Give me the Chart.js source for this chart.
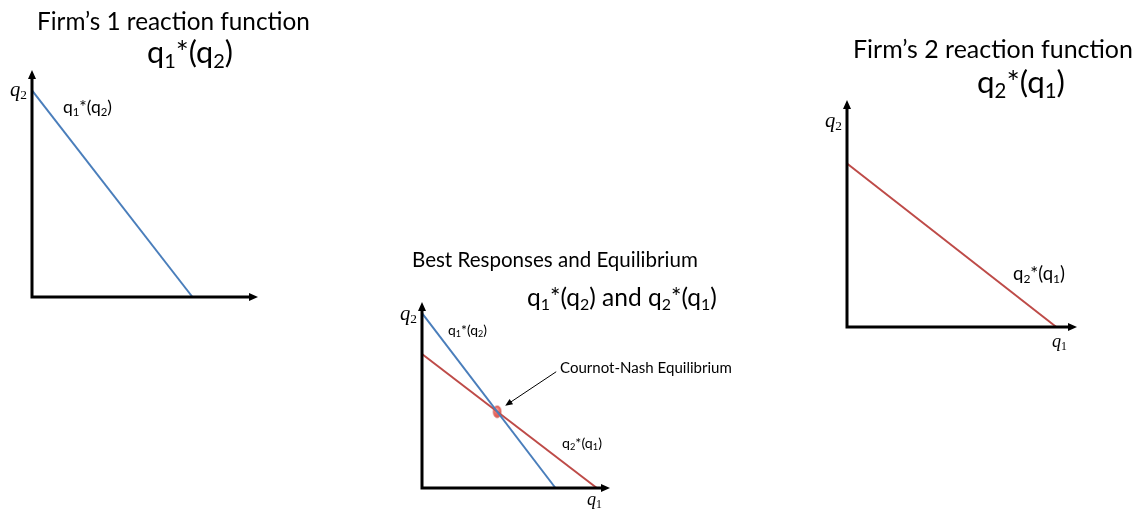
<!DOCTYPE html>
<html>
<head>
<meta charset="utf-8">
<title>Cournot reaction functions</title>
<script src="https://cdn.jsdelivr.net/npm/chart.js@4.4.1/dist/chart.umd.min.js"></script>
<style>
  html, body { margin: 0; padding: 0; background: #fff; }
  #stage { position: relative; width: 1140px; height: 509px; overflow: hidden; }
  #stage canvas { position: absolute; left: 0; top: 0; }
</style>
</head>
<body>
<div id="stage">
  <canvas id="firm1" width="1140" height="509"></canvas>
  <canvas id="both" width="1140" height="509"></canvas>
  <canvas id="firm2" width="1140" height="509"></canvas>
</div>
<script>
// every diagram runs 0..AXIS_MAX on both axes, the arrow tip sits at AXIS_MAX
const AXIS_MAX = 10;

// firm 1 reaction function q1*(q2), from the q2 intercept down to the q1 intercept
const firm1Q1 = [0, 7.1];
const firm1Q2 = [9.1, 0];

// best responses panel
const bestFirm1Q1 = [0, 7.1];
const bestFirm1Q2 = [9.4, 0];
const bestFirm2Q1 = [0, 9.3];
const bestFirm2Q2 = [7.2, 0];
const equilibriumQ1 = [4.0];
const equilibriumQ2 = [4.1];

// firm 2 reaction function q2*(q1)
const firm2Q1 = [0, 9.1];
const firm2Q2 = [7.2, 0];

const BLUE = '#4a7ebb';
const RED = '#be4b48';
const SANS = 'Lato, "Open Sans", sans-serif';
const SERIF = '"Liberation Serif", "DejaVu Serif", serif';
const W = 1140, H = 509;

function toPoints(xs, ys) {
  return xs.map((x, i) => ({ x: x, y: ys[i] }));
}

function reactionLine(xs, ys, color) {
  return {
    data: toPoints(xs, ys),
    showLine: true,
    borderColor: color,
    borderWidth: 2,
    pointRadius: 0,
    clip: false
  };
}

// small shaded ellipse used as the equilibrium marker
function equilibriumDot() {
  const c = document.createElement('canvas');
  c.width = 10; c.height = 14;
  const g = c.getContext('2d');
  const grad = g.createRadialGradient(4, 4.5, 0.5, 5, 7, 6.5);
  grad.addColorStop(0, '#f7aaa3');
  grad.addColorStop(0.45, '#ec6a62');
  grad.addColorStop(1, '#d9554d');
  g.fillStyle = grad;
  g.beginPath();
  g.ellipse(5, 7, 4, 6, 0, 0, Math.PI * 2);
  g.fill();
  g.strokeStyle = 'rgba(190, 70, 64, 0.8)';
  g.lineWidth = 0.6;
  g.stroke();
  return c;
}

// thick black axes with arrow heads, drawn over the lines
const arrowAxes = {
  id: 'arrowAxes',
  afterDatasetsDraw(chart) {
    const { ctx, scales: { x, y } } = chart;
    const x0 = x.getPixelForValue(0), y0 = y.getPixelForValue(0);
    const xEnd = x.getPixelForValue(AXIS_MAX), yEnd = y.getPixelForValue(AXIS_MAX);
    ctx.save();
    ctx.strokeStyle = '#000';
    ctx.fillStyle = '#000';
    ctx.lineWidth = 3;
    ctx.lineJoin = 'miter';
    ctx.beginPath();
    ctx.moveTo(x0, yEnd + 6);
    ctx.lineTo(x0, y0);
    ctx.lineTo(xEnd - 6, y0);
    ctx.stroke();
    ctx.beginPath();
    ctx.moveTo(x0, yEnd);
    ctx.lineTo(x0 - 4, yEnd + 9);
    ctx.lineTo(x0 + 4, yEnd + 9);
    ctx.closePath();
    ctx.moveTo(xEnd, y0);
    ctx.lineTo(xEnd - 9, y0 - 4);
    ctx.lineTo(xEnd - 9, y0 + 4);
    ctx.closePath();
    ctx.fill();
    ctx.restore();
  }
};

// '_' marks the next character as a subscript
function runs(text) {
  const out = [];
  for (let i = 0; i < text.length; i++) {
    if (text[i] === '_') {
      out.push({ t: text[i + 1], sub: true });
      i++;
    } else if (out.length && !out[out.length - 1].sub) {
      out[out.length - 1].t += text[i];
    } else {
      out.push({ t: text[i], sub: false });
    }
  }
  return out;
}

function fontFor(run, size, label) {
  const s = run.sub ? size * 0.65 : size;
  const style = label.italic && !run.sub ? 'italic ' : '';
  return style + s.toFixed(2) + 'px ' + (label.family || SANS);
}

function richWidth(ctx, label, size) {
  return runs(label.text).reduce((w, r) => {
    ctx.font = fontFor(r, size, label);
    return w + ctx.measureText(r.t).width;
  }, 0);
}

// text items: x = left edge, y = baseline, w = width the text is fitted to
const panelLabels = {
  id: 'panelLabels',
  afterDraw(chart, args, opts) {
    const ctx = chart.ctx;
    ctx.save();
    ctx.fillStyle = '#000';
    ctx.textBaseline = 'alphabetic';
    ctx.textAlign = 'left';
    (opts.items || []).forEach(label => {
      const size = 100 * label.w / richWidth(ctx, label, 100);
      let cx = label.x;
      runs(label.text).forEach(r => {
        ctx.font = fontFor(r, size, label);
        ctx.fillText(r.t, cx, label.y + (r.sub ? size * 0.15 : 0));
        cx += ctx.measureText(r.t).width;
      });
    });
    ctx.restore();
  }
};

// pointer from the "Cournot-Nash Equilibrium" caption to the marker
const equilibriumPointer = {
  id: 'equilibriumPointer',
  afterDatasetsDraw(chart, args, opts) {
    if (opts.dataset === undefined) return;
    const pt = chart.getDatasetMeta(opts.dataset).data[0];
    const ctx = chart.ctx;
    const tipX = pt.x + 8, tipY = pt.y - 6;
    const tailX = pt.x + 59, tailY = pt.y - 40;
    const ang = Math.atan2(tipY - tailY, tipX - tailX);
    ctx.save();
    ctx.strokeStyle = '#000';
    ctx.fillStyle = '#000';
    ctx.lineWidth = 1;
    ctx.beginPath();
    ctx.moveTo(tailX, tailY);
    ctx.lineTo(tipX - 5 * Math.cos(ang), tipY - 5 * Math.sin(ang));
    ctx.stroke();
    ctx.beginPath();
    ctx.moveTo(tipX, tipY);
    ctx.lineTo(tipX - 8 * Math.cos(ang - 0.4), tipY - 8 * Math.sin(ang - 0.4));
    ctx.lineTo(tipX - 8 * Math.cos(ang + 0.4), tipY - 8 * Math.sin(ang + 0.4));
    ctx.closePath();
    ctx.fill();
    ctx.restore();
  }
};

function makePanel(id, area, datasets, labels, pointer) {
  return new Chart(document.getElementById(id), {
    type: 'scatter',
    data: { datasets: datasets },
    options: {
      responsive: false,
      animation: false,
      devicePixelRatio: 1,
      events: [],
      layout: {
        padding: { left: area.left, top: area.top, right: W - area.right, bottom: H - area.bottom }
      },
      scales: {
        x: { type: 'linear', min: 0, max: AXIS_MAX, display: false },
        y: { type: 'linear', min: 0, max: AXIS_MAX, display: false }
      },
      plugins: {
        legend: { display: false },
        tooltip: { enabled: false },
        panelLabels: { items: labels },
        equilibriumPointer: pointer || {}
      }
    },
    plugins: [arrowAxes, panelLabels, equilibriumPointer]
  });
}

makePanel('firm1',
  { left: 32, top: 70, right: 258, bottom: 297 },
  [reactionLine(firm1Q1, firm1Q2, BLUE)],
  [
    { text: 'Firm’s 1 reaction function', x: 37, y: 30, w: 273 },
    { text: 'q_1*(q_2)', x: 147, y: 63, w: 86 },
    { text: 'q_1*(q_2)', x: 63, y: 113, w: 49 },
    { text: 'q_2', x: 10, y: 96, w: 17, italic: true, family: SERIF }
  ]);

makePanel('both',
  { left: 422, top: 302, right: 610, bottom: 488 },
  [
    reactionLine(bestFirm1Q1, bestFirm1Q2, BLUE),
    reactionLine(bestFirm2Q1, bestFirm2Q2, RED),
    {
      data: toPoints(equilibriumQ1, equilibriumQ2),
      pointStyle: equilibriumDot(),
      pointRadius: 6,
      clip: false
    }
  ],
  [
    { text: 'Best Responses and Equilibrium', x: 412, y: 267, w: 286 },
    { text: 'q_1*(q_2) and q_2*(q_1)', x: 527, y: 306, w: 190 },
    { text: 'q_1*(q_2)', x: 448, y: 335, w: 39 },
    { text: 'q_2*(q_1)', x: 562, y: 448, w: 40 },
    { text: 'Cournot-Nash Equilibrium', x: 560, y: 373, w: 172 },
    { text: 'q_2', x: 400, y: 320, w: 17, italic: true, family: SERIF },
    { text: 'q_1', x: 587, y: 505, w: 15, italic: true, family: SERIF }
  ],
  { dataset: 2 });

makePanel('firm2',
  { left: 847, top: 100, right: 1077, bottom: 327 },
  [reactionLine(firm2Q1, firm2Q2, RED)],
  [
    { text: 'Firm’s 2 reaction function', x: 853, y: 58, w: 280 },
    { text: 'q_2*(q_1)', x: 977, y: 93, w: 88 },
    { text: 'q_2*(q_1)', x: 1013, y: 280, w: 52 },
    { text: 'q_2', x: 825, y: 127, w: 17, italic: true, family: SERIF },
    { text: 'q_1', x: 1052, y: 347, w: 15, italic: true, family: SERIF }
  ]);
</script>
</body>
</html>
